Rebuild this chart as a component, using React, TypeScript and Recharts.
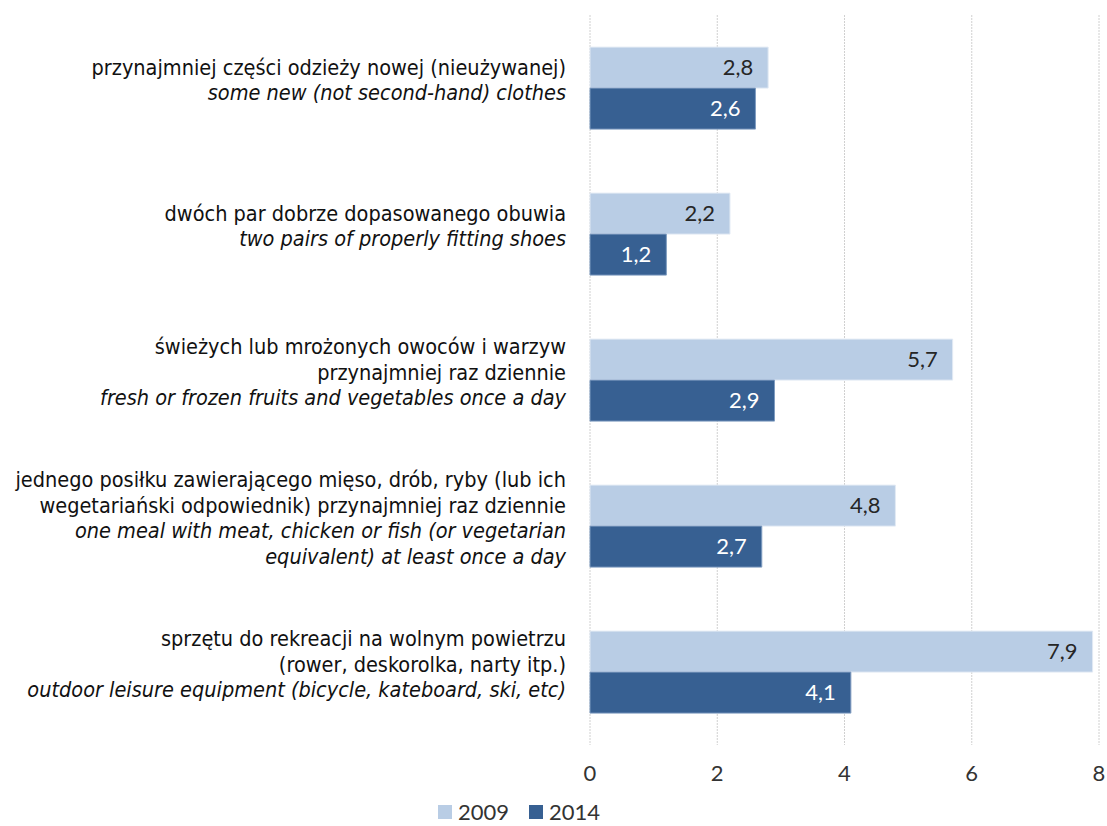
import React from 'react';
import { BarChart, Bar, XAxis, YAxis, CartesianGrid, LabelList, Legend } from 'recharts';

// Polish lines of each category label, then the English (italic) lines
const labelsPl: string[][] = [
  ['przynajmniej części odzieży nowej (nieużywanej)'],
  ['dwóch par dobrze dopasowanego obuwia'],
  ['świeżych lub mrożonych owoców i warzyw', 'przynajmniej raz dziennie'],
  ['jednego posiłku zawierającego mięso, drób, ryby (lub ich', 'wegetariański odpowiednik) przynajmniej raz dziennie'],
  ['sprzętu do rekreacji na wolnym powietrzu', '(rower, deskorolka, narty itp.)'],
];

const labelsEn: string[][] = [
  ['some new (not second-hand) clothes'],
  ['two pairs of properly fitting shoes'],
  ['fresh or frozen fruits and vegetables once a day'],
  ['one meal with meat, chicken or fish (or vegetarian', 'equivalent) at least once a day'],
  ['outdoor leisure equipment (bicycle, kateboard, ski, etc)'],
];

const values2009 = [2.8, 2.2, 5.7, 4.8, 7.9];
const values2014 = [2.6, 1.2, 2.9, 2.7, 4.1];

const xTicks = [0, 2, 4, 6, 8];

const COLOR_2009 = '#B9CDE5';
const COLOR_2014 = '#376092';

const data = values2009.map((v, i) => ({
  key: String(i),
  y2009: v,
  y2014: values2014[i],
}));

const labelFont = '"Liberation Sans Narrow", "Arial Narrow", "DejaVu Sans Condensed", sans-serif';
const numFont = 'Lato, "Open Sans", sans-serif';

const CategoryTick = (props: any) => {
  const { x, y, payload } = props;
  const idx = Number(payload.value);
  const lines = [
    ...labelsPl[idx].map((t) => ({ t, it: false })),
    ...labelsEn[idx].map((t) => ({ t, it: true })),
  ];
  const lh = 25.5;
  const start = y - 8 - ((lines.length - 1) * lh) / 2;
  return (
    <g>
      {lines.map((l, i) => (
        <text
          key={i}
          x={x - 16}
          y={start + i * lh}
          textAnchor="end"
          dominantBaseline="central"
          fontFamily={labelFont}
          fontSize={21.5}
          fontStyle={l.it ? 'italic' : 'normal'}
          fill="#111"
        >
          {l.t}
        </text>
      ))}
    </g>
  );
};

const fmt = (v: any) => String(v).replace('.', ',');

const LegendContent = () => (
  <div style={{ display: 'flex', alignItems: 'center', fontFamily: numFont, fontSize: 22, color: '#333' }}>
    <span style={{ width: 14, height: 14, background: COLOR_2009, display: 'inline-block', marginRight: 6 }} />
    <span style={{ marginRight: 20 }}>2009</span>
    <span style={{ width: 14, height: 14, background: COLOR_2014, display: 'inline-block', marginRight: 6 }} />
    <span>2014</span>
  </div>
);

export default function App() {
  return (
    <div style={{ position: 'absolute', left: 0, top: 0, width: 1107, height: 826, background: '#fff' }}>
      <BarChart
        width={1107}
        height={826}
        data={data}
        layout="vertical"
        margin={{ top: 15, right: 8, left: 0, bottom: 41 }}
        barCategoryGap="22%"
        barGap={0}
      >
        <CartesianGrid horizontal={false} stroke="#D0D0D0" strokeDasharray="2 1" />
        <XAxis
          type="number"
          domain={[0, 8]}
          ticks={xTicks}
          axisLine={false}
          tickLine={false}
          height={40}
          tickMargin={14}
          tick={{ fontFamily: numFont, fontSize: 22, fill: '#333' }}
        />
        <YAxis
          type="category"
          dataKey="key"
          width={590}
          axisLine={false}
          tickLine={false}
          tick={<CategoryTick />}
          interval={0}
        />
        <Legend
          layout="horizontal"
          verticalAlign="middle"
          align="center"
          content={<LegendContent />}
          wrapperStyle={{ top: 798, left: 438, width: 220 }}
        />
        <Bar dataKey="y2009" name="2009" fill={COLOR_2009} stroke="#E2EAF4" strokeWidth={1} isAnimationActive={false}>
          <LabelList
            dataKey="y2009"
            position="insideRight"
            offset={15}
            formatter={fmt}
            style={{ fontFamily: numFont, fontSize: 22, fill: '#262626' }}
          />
        </Bar>
        <Bar dataKey="y2014" name="2014" fill={COLOR_2014} stroke="#7F9CC0" strokeWidth={1} isAnimationActive={false}>
          <LabelList
            dataKey="y2014"
            position="insideRight"
            offset={15}
            formatter={fmt}
            style={{ fontFamily: numFont, fontSize: 22, fill: '#ffffff' }}
          />
        </Bar>
      </BarChart>
    </div>
  );
}
